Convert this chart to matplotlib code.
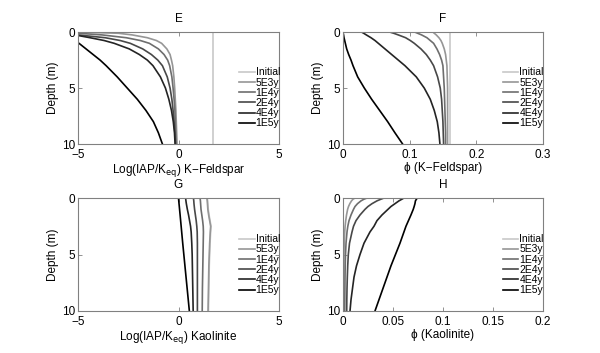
import matplotlib
matplotlib.use('Agg')
import matplotlib.pyplot as plt

plt.rcParams['font.family'] = ['Liberation Sans', 'DejaVu Sans']
plt.rcParams['axes.unicode_minus'] = True

# depth grid (m), shared by all profiles
depth = [0, 0.1, 0.25, 0.5, 0.75, 1, 1.5, 2, 2.5, 3, 4, 5, 6, 7, 8, 9, 10]
series_names = ['Initial', '5E3y', '1E4y', '2E4y', '4E4y', '1E5y']
series_colors = ['#c8c8c8', '#969696', '#6e6e6e', '#484848', '#242424', '#000000']

# E: Log(IAP/Keq) K-Feldspar
kfs_log = {
    'Initial': [1.7] * 17,
    '5E3y': [-5.0, -3.0, -2.3, -1.55, -1.1, -0.84, -0.58, -0.42, -0.35, -0.29, -0.23, -0.19, -0.16, -0.13, -0.11, -0.09, -0.07],
    '1E4y': [-5.6, -5.0, -3.8, -2.6, -1.9, -1.45, -1.0, -0.72, -0.54, -0.44, -0.33, -0.27, -0.22, -0.18, -0.16, -0.14, -0.12],
    '2E4y': [-6.3, -5.8, -5.0, -3.65, -2.9, -2.4, -1.78, -1.35, -1.03, -0.8, -0.56, -0.42, -0.33, -0.27, -0.22, -0.18, -0.15],
    '4E4y': [-6.8, -6.2, -5.15, -4.4, -3.7, -3.2, -2.45, -1.95, -1.55, -1.27, -0.9, -0.65, -0.48, -0.35, -0.26, -0.2, -0.17],
    '1E5y': [-6.1, -6.0, -5.8, -5.5, -5.25, -4.95, -4.6, -4.25, -3.9, -3.6, -3.05, -2.55, -2.05, -1.62, -1.25, -1.0, -0.8],
}

# F: phi K-Feldspar
kfs_phi = {
    'Initial': [0.16] * 17,
    '5E3y': [0.135, 0.137, 0.140, 0.144, 0.147, 0.149, 0.152, 0.154, 0.155, 0.156, 0.1565, 0.157, 0.157, 0.157, 0.157, 0.157, 0.157],
    '1E4y': [0.108, 0.112, 0.118, 0.126, 0.131, 0.136, 0.141, 0.145, 0.148, 0.150, 0.151, 0.152, 0.1525, 0.153, 0.1535, 0.154, 0.154],
    '2E4y': [0.0705, 0.076, 0.083, 0.094, 0.101, 0.107, 0.117, 0.125, 0.131, 0.136, 0.142, 0.146, 0.148, 0.149, 0.150, 0.1505, 0.151],
    '4E4y': [0.028, 0.031, 0.035, 0.042, 0.048, 0.053, 0.063, 0.073, 0.083, 0.093, 0.110, 0.122, 0.131, 0.137, 0.1415, 0.144, 0.1455],
    '1E5y': [0.0, 0.0003, 0.0008, 0.0015, 0.0025, 0.0035, 0.0055, 0.0085, 0.012, 0.015, 0.022, 0.032, 0.043, 0.055, 0.067, 0.078, 0.0895],
}

# G: Log(IAP/Keq) Kaolinite
kao_log = {
    'Initial': [1.43, 1.44, 1.45, 1.46, 1.47, 1.48, 1.52, 1.57, 1.62, 1.60, 1.57, 1.55, 1.53, 1.52, 1.51, 1.50, 1.49],
    '5E3y': [1.41, 1.42, 1.43, 1.44, 1.45, 1.46, 1.50, 1.55, 1.60, 1.58, 1.55, 1.53, 1.51, 1.50, 1.49, 1.48, 1.47],
    '1E4y': [1.07, 1.08, 1.09, 1.10, 1.11, 1.12, 1.16, 1.20, 1.23, 1.24, 1.23, 1.22, 1.21, 1.20, 1.19, 1.185, 1.18],
    '2E4y': [0.74, 0.75, 0.76, 0.77, 0.785, 0.80, 0.84, 0.88, 0.91, 0.93, 0.94, 0.94, 0.94, 0.94, 0.94, 0.94, 0.94],
    '4E4y': [0.35, 0.36, 0.37, 0.39, 0.415, 0.44, 0.50, 0.55, 0.60, 0.63, 0.66, 0.68, 0.69, 0.70, 0.71, 0.72, 0.73],
    '1E5y': [0.0, 0.005, 0.013, 0.026, 0.04, 0.053, 0.08, 0.106, 0.132, 0.158, 0.21, 0.265, 0.32, 0.375, 0.43, 0.485, 0.54],
}

# H: phi Kaolinite
kao_phi = {
    'Initial': [0.0] * 17,
    '5E3y': [0.012, 0.010, 0.0085, 0.0068, 0.0055, 0.0046, 0.0035, 0.0027, 0.0021, 0.0017, 0.0012, 0.0009, 0.0008, 0.0007, 0.0006, 0.0005, 0.0005],
    '1E4y': [0.024, 0.021, 0.018, 0.0145, 0.012, 0.0105, 0.008, 0.006, 0.0048, 0.004, 0.003, 0.0025, 0.0022, 0.002, 0.0019, 0.0018, 0.0017],
    '2E4y': [0.041, 0.038, 0.034, 0.029, 0.025, 0.022, 0.017, 0.013, 0.0105, 0.009, 0.0065, 0.0053, 0.0047, 0.0043, 0.004, 0.0038, 0.0037],
    '4E4y': [0.061, 0.059, 0.056, 0.052, 0.048, 0.045, 0.039, 0.034, 0.031, 0.027, 0.021, 0.017, 0.0135, 0.011, 0.0095, 0.008, 0.007],
    '1E5y': [0.0745, 0.0735, 0.0725, 0.072, 0.0712, 0.0703, 0.068, 0.0655, 0.063, 0.061, 0.057, 0.0525, 0.048, 0.044, 0.040, 0.036, 0.032],
}

panels = [
    ('E', kfs_log, (-5, 5), [-5, 0, 5], 'Log(IAP/K$_{\\mathrm{eq}}$) K\u2212Feldspar', [0.13, 0.592, 0.335, 0.317]),
    ('F', kfs_phi, (0, 0.3), [0, 0.1, 0.2, 0.3], '\u03d5 (K\u2212Feldspar)', [0.5717, 0.592, 0.333, 0.317]),
    ('G', kao_log, (-5, 5), [-5, 0, 5], 'Log(IAP/K$_{\\mathrm{eq}}$) Kaolinite', [0.13, 0.119, 0.335, 0.32]),
    ('H', kao_phi, (0, 0.2), [0, 0.05, 0.1, 0.15, 0.2], '\u03d5 (Kaolinite)', [0.5717, 0.119, 0.333, 0.32]),
]

fig = plt.figure(figsize=(6, 3.53), dpi=100)
edge = '#808080'

for title, data, xlim, xticks, xlabel, pos in panels:
    ax = fig.add_axes(pos)
    for name, col in zip(series_names, series_colors):
        ax.plot(data[name], depth, color=col, lw=1.2, label=name)
    ax.set_xlim(*xlim)
    ax.set_ylim(10, 0)
    ax.set_xticks(xticks)
    ax.set_xticklabels([f'{t:g}'.replace('-', '\u2212') for t in xticks])
    ax.set_yticks([0, 5, 10])
    ax.tick_params(direction='in', length=3, width=0.6, color=edge, labelsize=8.5,
                   top=True, right=True)
    ax.tick_params(axis='x', pad=3.5)
    ax.tick_params(axis='y', pad=2)
    for s in ax.spines.values():
        s.set_color(edge)
        s.set_linewidth(0.8)
    ax.set_title(title, fontsize=8.5, pad=7)
    ax.set_xlabel(xlabel, fontsize=8.5, labelpad=1)
    ax.set_ylabel('Depth (m)', fontsize=8.5, labelpad=2)
    ax.legend(loc='lower right', bbox_to_anchor=(1.01, 0.13), frameon=False,
              fontsize=7.5, handlelength=1.5, handletextpad=0.1,
              labelspacing=0.02, borderpad=0.1, borderaxespad=0)

fig.savefig('out.png', dpi=100)
